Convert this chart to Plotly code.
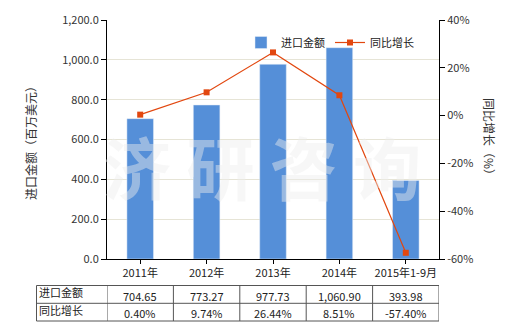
import plotly.graph_objects as go

categories = ["2011年", "2012年", "2013年", "2014年", "2015年1-9月"]
import_values = [704.65, 773.27, 977.73, 1060.90, 393.98]
growth_values = [0.40, 9.74, 26.44, 8.51, -57.40]
import_labels = ["704.65", "773.27", "977.73", "1,060.90", "393.98"]
growth_labels = ["0.40%", "9.74%", "26.44%", "8.51%", "-57.40%"]
row_names = ["进口金额", "同比增长"]
left_ticks = [0, 200, 400, 600, 800, 1000, 1200]
right_ticks = [-60, -40, -20, 0, 20, 40]

FONT = "Noto Sans CJK SC, Microsoft YaHei, sans-serif"
BAR = "#558FD8"
LINE = "#E2470F"

fig = go.Figure()
xs = list(range(len(categories)))
fig.add_trace(go.Bar(x=xs, y=import_values, name="进口金额", marker_color=BAR,
                     width=0.4, yaxis="y"))
fig.add_trace(go.Scatter(x=xs, y=growth_values, name="同比增长", yaxis="y2",
                         mode="lines+markers",
                         line=dict(color=LINE, width=1.2),
                         marker=dict(symbol="square", size=6, color=LINE)))

W, H = 520, 330
L, R, T, B = 107, 81, 20, 71
pw, ph = W - L - R, H - T - B

def px_to_paper_y(py):
    return (H - B - py) / ph

def px_to_paper_x(px):
    return (px - L) / pw

fig.update_layout(
    width=W, height=H,
    margin=dict(l=L, r=R, t=T, b=B),
    paper_bgcolor="white", plot_bgcolor="white",
    font=dict(family=FONT, size=11, color="#333"),
    showlegend=True,
    legend=dict(orientation="h", x=px_to_paper_x(241), y=px_to_paper_y(28),
                xanchor="left", yanchor="top", bgcolor="rgba(0,0,0,0)",
                font=dict(size=11, color="#222"), itemwidth=30,
                traceorder="normal"),
    xaxis=dict(range=[-0.5, 4.5], tickmode="array", tickvals=xs,
               ticktext=categories, showline=True, linecolor="#000",
               ticks="outside", ticklen=4, tickcolor="#000",
               showgrid=False, zeroline=False, tickfont=dict(size=11, color="#222")),
    yaxis=dict(range=[0, 1200], tickmode="array", tickvals=left_ticks,
               ticktext=[f"{v:,.1f}" for v in left_ticks],
               showline=True, linecolor="#000", ticks="outside", ticklen=5,
               tickcolor="#000", showgrid=True, gridcolor="#E6E4D6",
               zeroline=False, tickfont=dict(size=11, color="#333")),
    yaxis2=dict(range=[-60, 40], overlaying="y", side="right",
                tickmode="array", tickvals=right_ticks,
                ticktext=[f"{v}%" for v in right_ticks],
                showline=True, linecolor="#000", ticks="outside", ticklen=5,
                tickcolor="#000", showgrid=False, zeroline=False,
                tickfont=dict(size=11, color="#333")),
)

annotations = []
# axis titles
annotations.append(dict(text="进口金额（百万美元）", xref="paper", yref="paper",
                        x=px_to_paper_x(30), y=px_to_paper_y(140), textangle=-90,
                        xanchor="center", yanchor="middle",
                        showarrow=False, font=dict(size=12, color="#333")))
annotations.append(dict(text="同比增长（%）", xref="paper", yref="paper",
                        x=px_to_paper_x(490), y=px_to_paper_y(140), textangle=90,
                        xanchor="center", yanchor="middle",
                        showarrow=False, font=dict(size=12, color="#333")))
# watermark
annotations.append(dict(text="<b>济 研 咨 询</b>", xref="paper", yref="paper",
                        x=px_to_paper_x(262), y=px_to_paper_y(165),
                        xanchor="center", yanchor="middle",
                        showarrow=False,
                        font=dict(size=68, color="rgba(238,238,238,0.45)",
                                  family=FONT)))

# table
t_top, t_mid, t_bot = 285.5, 303.3, 321
t_left = px_to_paper_x(36.5)
yt, ym, yb = px_to_paper_y(t_top), px_to_paper_y(t_mid), px_to_paper_y(t_bot)
shapes = []
lc = dict(color="#555", width=1)
for yy in (yt, ym, yb):
    shapes.append(dict(type="line", xref="paper", yref="paper", x0=t_left, x1=1.0,
                       y0=yy, y1=yy, line=lc))
shapes.append(dict(type="line", xref="paper", yref="paper", x0=t_left, x1=t_left,
                   y0=yt, y1=yb, line=lc))
for i in range(len(categories) + 1):
    shapes.append(dict(type="line", xref="x", yref="paper", x0=i - 0.5, x1=i - 0.5,
                       y0=yt, y1=yb, line=lc))

row_ys = [(yt + ym) / 2, (ym + yb) / 2]
for name, ry in zip(row_names, row_ys):
    annotations.append(dict(text=name, xref="paper", yref="paper",
                            x=px_to_paper_x(37), y=ry + 0.008,
                            xanchor="left", yanchor="middle",
                            showarrow=False, font=dict(size=11, color="#222")))
for i in xs:
    annotations.append(dict(text=import_labels[i], xref="x", yref="paper", x=i,
                            y=row_ys[0] - 0.005, xanchor="center", yanchor="middle",
                            showarrow=False, font=dict(size=11, color="#222")))
    annotations.append(dict(text=growth_labels[i], xref="x", yref="paper", x=i,
                            y=row_ys[1] - 0.005, xanchor="center", yanchor="middle",
                            showarrow=False, font=dict(size=11, color="#222")))

fig.update_layout(annotations=annotations, shapes=shapes)
fig.write_html("out.html")
